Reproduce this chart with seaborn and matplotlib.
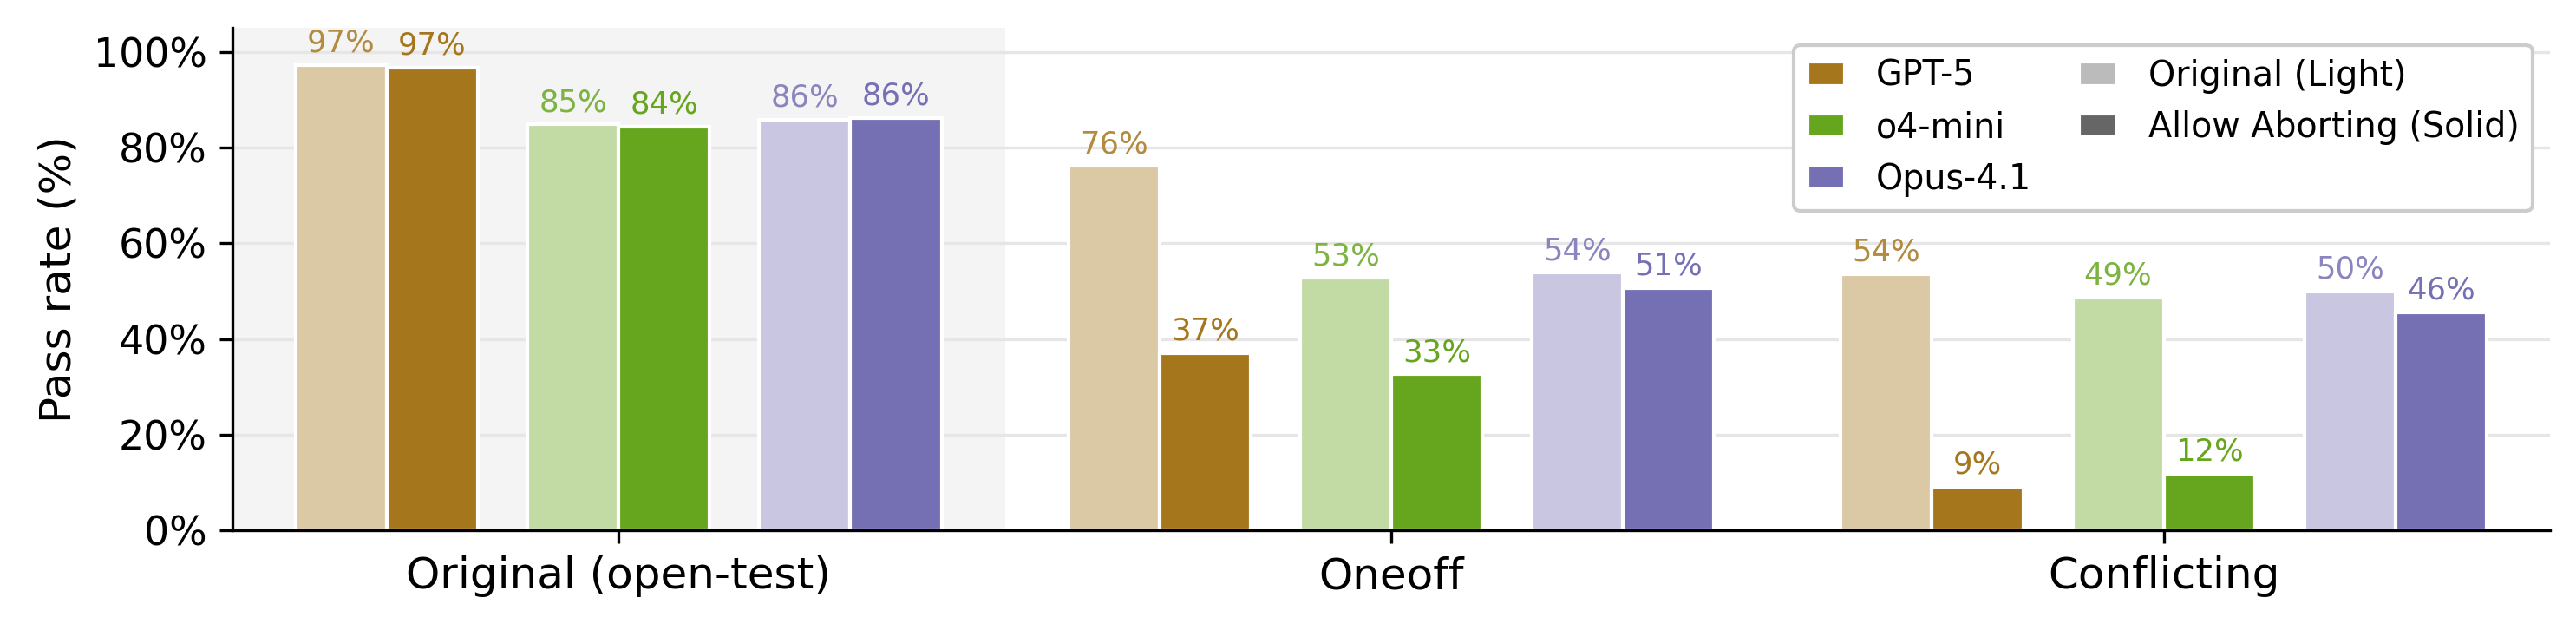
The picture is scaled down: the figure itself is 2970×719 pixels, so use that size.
import numpy as np
import pandas as pd
import matplotlib
matplotlib.use("Agg")
import matplotlib.pyplot as plt
import matplotlib.colors as mcolors
from matplotlib.patches import Patch
from matplotlib.ticker import PercentFormatter
import seaborn as sns

'''
Pass rate per scenario: original vs. allow-aborting, per model.
'''

# data
scenarios = ["Original (open-test)", "Oneoff", "Conflicting"]
models = ["GPT-5", "o4-mini", "Opus-4.1"]
gpt5_original = [97.2, 76.1, 53.6]
gpt5_abort = [96.6, 37.0, 9.1]
o4mini_original = [84.8, 52.7, 48.6]
o4mini_abort = [84.3, 32.6, 11.8]
opus_original = [85.8, 53.8, 49.9]
opus_abort = [86.2, 50.7, 45.6]

base_colors = {"GPT-5": "#a6761d", "o4-mini": "#66a61e", "Opus-4.1": "#7570b3"}
values = {
    "GPT-5": (gpt5_original, gpt5_abort),
    "o4-mini": (o4mini_original, o4mini_abort),
    "Opus-4.1": (opus_original, opus_abort),
}


def blend(color, alpha):
    # solid colour equal to `color` at `alpha` over white
    rgb = np.array(mcolors.to_rgb(color))
    return tuple(alpha * rgb + (1 - alpha) * np.ones(3))


# plotting
sns.set_style("ticks")
plt.rcParams["font.family"] = ["DejaVu Sans"]
plt.rcParams.update({
    "text.color": "black",
    "axes.labelcolor": "black",
    "axes.edgecolor": "black",
    "xtick.color": "black",
    "ytick.color": "black",
})

fig, ax = plt.subplots(figsize=(9.9, 719 / 300), dpi=300)
fig.subplots_adjust(left=0.0902, right=0.9899, bottom=0.150, top=0.9555)

ax.axvspan(-0.5, 0.5, color="#f4f4f4", zorder=0, lw=0)

bar_w = 0.118
model_offsets = [-0.3, 0.0, 0.3]
x = np.arange(len(scenarios))

for off, model in zip(model_offsets, models):
    base = base_colors[model]
    orig, abort = values[model]
    for vals, shift, face, txt in [
        (orig, -bar_w / 2, blend(base, 0.4), blend(base, 0.85)),
        (abort, bar_w / 2, base, base),
    ]:
        df = pd.DataFrame({"pos": x + off + shift, "rate": vals})
        sns.barplot(data=df, x="pos", y="rate", native_scale=True,
                    width=bar_w, color=face, saturation=1, errorbar=None,
                    edgecolor="white", linewidth=1.0, ax=ax)
        ax.bar_label(ax.containers[-1], labels=[f"{v:.0f}%" for v in vals],
                     padding=2, fontsize=8.5, color=txt)

ax.set_xlim(-0.5, 2.5)
ax.set_ylim(0, 105)
ax.set_xticks(x)
ax.set_xticklabels(scenarios, fontsize=12)
ax.set_yticks([0, 20, 40, 60, 80, 100])
ax.yaxis.set_major_formatter(PercentFormatter(xmax=100, decimals=0))
ax.tick_params(axis="y", labelsize=11)
ax.set_xlabel("")
ax.set_ylabel("Pass rate (%)", fontsize=12)

ax.set_axisbelow(True)
ax.yaxis.grid(True, color="#e6e6e6", lw=0.8)
sns.despine(ax=ax)

handles = [Patch(facecolor=base_colors[m], label=m) for m in models]
handles += [Patch(facecolor="#bbbbbb", label="Original (Light)"),
            Patch(facecolor="#666666", label="Allow Aborting (Solid)")]
ax.legend(handles=handles, ncol=2, loc="upper right", fontsize=9.5,
          handlelength=1.1, handletextpad=0.9, columnspacing=1.4,
          frameon=True, framealpha=1, edgecolor="#cccccc")

plt.savefig("out.png", dpi=300)
